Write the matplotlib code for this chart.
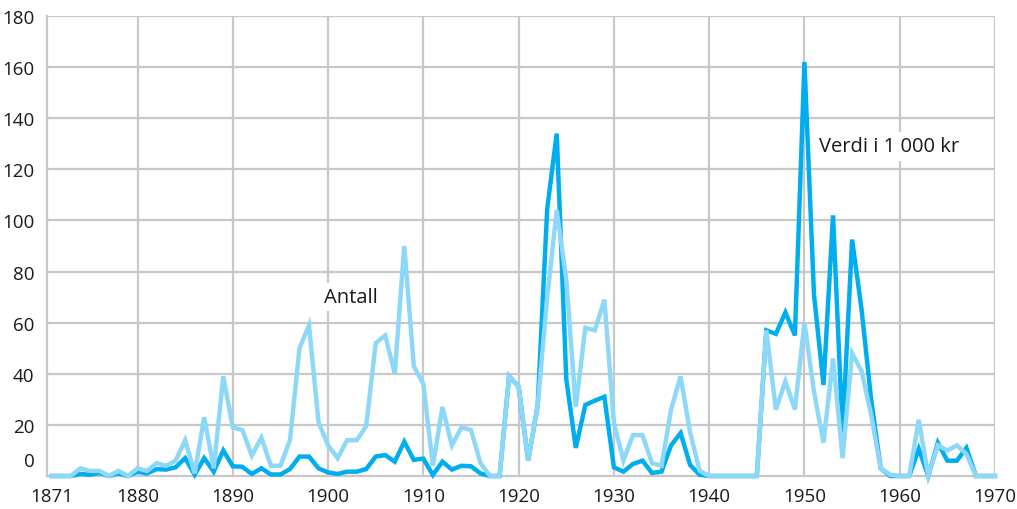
import matplotlib.pyplot as plt
import matplotlib.transforms as mtransforms
import numpy as np

plt.rcParams['font.family'] = ['Open Sans', 'DejaVu Sans']

years = np.arange(1871, 1971)

# Antall (light blue)
antall = [0, 0, 0, 3, 2, 2, 0, 2, 0, 3,
          2, 5, 4, 6, 14, 1, 23, 3, 39, 19,
          18, 8, 15, 4, 4, 14, 50, 59, 21, 12,
          7, 14, 14, 19.5, 52, 55, 40, 90, 43, 36,
          4, 27, 12, 19, 18, 5, 0, 0, 39, 35,
          6, 27.5, 70, 104, 77, 27, 58, 57, 69, 21,
          6, 16, 16, 5, 4, 26, 39, 17, 2, 0,
          0, 0, 0, 0, 0, 57, 26, 37, 26, 60,
          33, 13, 46, 7, 48, 41, 24, 3, 0.5, 0,
          0, 22, 0, 12, 10, 12, 8.6, 0, 0, 0]

# Verdi i 1 000 kr (dark blue)
verdi = [0, 0, 0, 0.8, 0.5, 1.2, 0, 1, 0, 1.7,
         1, 2.7, 2.5, 3.4, 7, 0.5, 7, 1.7, 10, 3.8,
         3.6, 0.8, 3, 0.6, 0.6, 2.7, 7.6, 7.6, 3, 1.4,
         0.8, 1.7, 1.7, 2.7, 7.6, 8.2, 5.6, 13.4, 6.3, 6.8,
         0.4, 5.6, 2.5, 4, 3.8, 1, 0, 0, 39, 35,
         6, 27.5, 104.5, 134, 38, 11, 27.8, 29.5, 31, 3.4,
         1.7, 4.7, 6, 1.2, 1.7, 12, 16.8, 4.3, 0.5, 0,
         0, 0, 0, 0, 0, 57, 55.6, 64, 55, 162,
         71, 35.6, 102, 17, 92.5, 65, 30, 3, 0, 0,
         0, 10.6, 0, 13, 6, 6, 11, 0, 0, 0]

xticks = [1871, 1880, 1890, 1900, 1910, 1920, 1930, 1940, 1950, 1960, 1970]
yticks = [0, 20, 40, 60, 80, 100, 120, 140, 160, 180]

grid_col = '#c8c8c8'
light_col = '#8dd8f8'
dark_col = '#00aeef'

fig = plt.figure(figsize=(10.17, 5.10), dpi=100)
ax = fig.add_axes([47 / 1017, 33 / 510, 948 / 1017, 460 / 510])

ax.plot(years, verdi, color=dark_col, lw=3.2, zorder=3, clip_on=False,
        solid_joinstyle='miter')
ax.plot(years, antall, color=light_col, lw=3.2, zorder=4, clip_on=False,
        solid_joinstyle='miter')

ax.set_xlim(1870.5, 1970)
ax.set_ylim(0, 180)

# grid
for y in yticks[1:]:
    ax.axhline(y, color=grid_col, lw=1.6, zorder=1)
for x in xticks[1:]:
    ax.axvline(x, color=grid_col, lw=1.6, zorder=1)

for side in ['top', 'right']:
    ax.spines[side].set_visible(False)
for side in ['left', 'bottom']:
    ax.spines[side].set_color(grid_col)
    ax.spines[side].set_linewidth(1.6)

ax.set_xticks(xticks)
ax.set_yticks(yticks)
ax.tick_params(axis='both', length=0, labelsize=13.5, colors='#1a1a1a')
ax.tick_params(axis='y', pad=9)
ax.tick_params(axis='x', pad=8)

# zero label sits a bit above the baseline
lbl0 = ax.get_yticklabels()[0]
lbl0.set_transform(lbl0.get_transform() +
                   mtransforms.ScaledTranslation(0, 17 / 100, fig.dpi_scale_trans))

box = dict(facecolor='white', edgecolor='none', pad=3)
ax.text(1899.6, 70, 'Antall', fontsize=14.5, color='#1a1a1a',
        va='center', ha='left', bbox=box, zorder=5)
ax.text(1951.5, 129, 'Verdi i 1 000 kr', fontsize=14.5, color='#1a1a1a',
        va='center', ha='left', bbox=box, zorder=5)

fig.savefig('out.png', dpi=100)
